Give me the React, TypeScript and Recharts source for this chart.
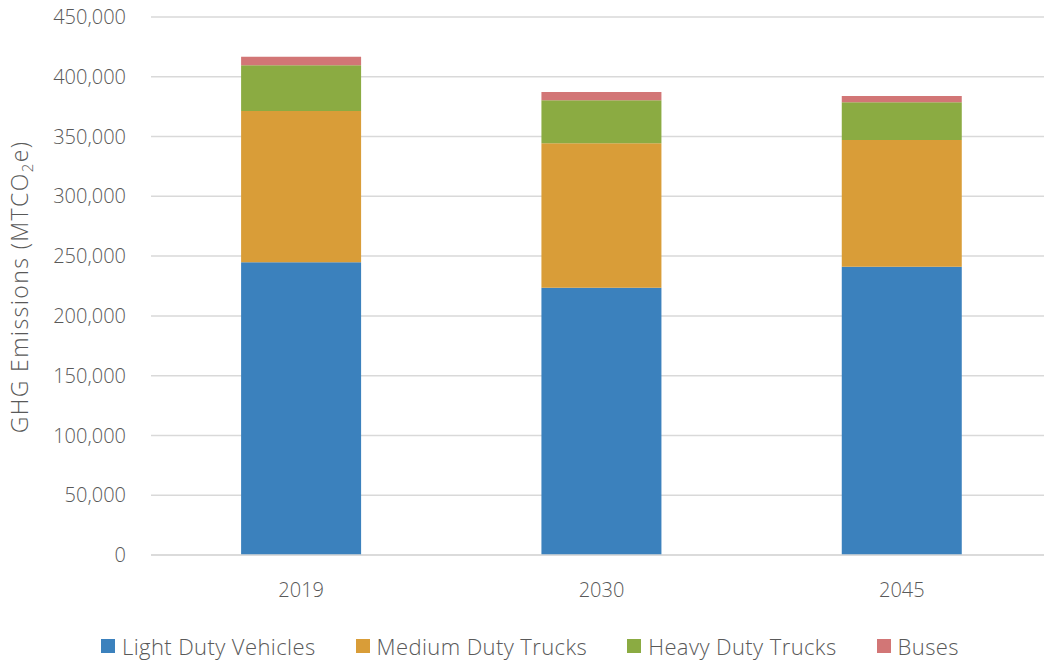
import React from "react";
import { BarChart, Bar, XAxis, YAxis, CartesianGrid, Legend } from "recharts";

const years = ["2019", "2030", "2045"];
const lightDutyVehicles = [244800, 223600, 241100];
const mediumDutyTrucks = [126600, 120800, 106000];
const heavyDutyTrucks = [38200, 36000, 31500];
const buses = [7200, 6900, 5300];
const yTicks = [0, 50000, 100000, 150000, 200000, 250000, 300000, 350000, 400000, 450000];

const seriesNames = ["Light Duty Vehicles", "Medium Duty Trucks", "Heavy Duty Trucks", "Buses"];
const seriesKeys = ["ldv", "mdt", "hdt", "bus"];
const seriesColors = ["#3b81bd", "#d99d38", "#8bab42", "#d27676"];

const data = years.map((y, i) => ({
  year: y,
  ldv: lightDutyVehicles[i],
  mdt: mediumDutyTrucks[i],
  hdt: heavyDutyTrucks[i],
  bus: buses[i],
}));

const FONT = "'Open Sans', 'Noto Sans', sans-serif";
const TEXT = "#595959";

const fmt = (v: number) => v.toLocaleString("en-US");

const YLabel = () => (
  <text
    x={0}
    y={0}
    transform="translate(28,287) rotate(-90)"
    textAnchor="middle"
    fill={TEXT}
    fontSize={23}
    fontWeight={300}
    letterSpacing={1.4}
    fontFamily={FONT}
  >
    <tspan>GHG Emissions (MTCO</tspan>
    <tspan fontSize={15} dy={5}>2</tspan>
    <tspan dy={-5}>e)</tspan>
  </text>
);

const LegendContent = () => (
  <div
    style={{
      display: "flex",
      justifyContent: "flex-start",
      alignItems: "center",
      height: 36,
      paddingLeft: 101,
      fontFamily: FONT,
      fontSize: 22,
      fontWeight: 300,
      letterSpacing: 0.4,
      color: TEXT,
    }}
  >
    {seriesNames.map((n, i) => (
      <div key={n} style={{ display: "flex", alignItems: "center", marginRight: 40 }}>
        <span style={{ width: 14, height: 14, background: seriesColors[i], display: "inline-block", marginRight: 7 }} />
        <span>{n}</span>
      </div>
    ))}
  </div>
);

export default function App() {
  return (
    <div style={{ position: "absolute", left: 0, top: 0, width: 1044, height: 661, overflow: "hidden", background: "#fff" }}>
      <BarChart
        width={1060}
        height={661}
        data={data}
        margin={{ top: 17, right: 8, left: 0, bottom: 35 }}
        barCategoryGap="30%"
      >
        <CartesianGrid vertical={false} stroke="#d9d9d9" strokeWidth={1.5} />
        <XAxis
          dataKey="year"
          height={35}
          tickLine={false}
          tickSize={0}
          tickMargin={28}
          axisLine={{ stroke: "#d9d9d9", strokeWidth: 1.5 }}
          tick={{ fill: TEXT, fontSize: 20, fontWeight: 300, fontFamily: FONT }}
        />
        <YAxis
          width={151}
          domain={[0, 450000]}
          ticks={yTicks}
          interval={0}
          tickFormatter={fmt}
          tickLine={false}
          axisLine={false}
          tickSize={0}
          tickMargin={25}
          tick={{ fill: TEXT, fontSize: 20, fontWeight: 300, fontFamily: FONT }}
          label={<YLabel />}
        />
        <Legend
          content={<LegendContent />}
          wrapperStyle={{ top: 628, left: 0, width: 1044, height: 36 }}
        />
        {seriesKeys.map((k, i) => (
          <Bar
            key={k}
            dataKey={k}
            name={seriesNames[i]}
            stackId="a"
            fill={seriesColors[i]}
            isAnimationActive={false}
          />
        ))}
      </BarChart>
    </div>
  );
}
